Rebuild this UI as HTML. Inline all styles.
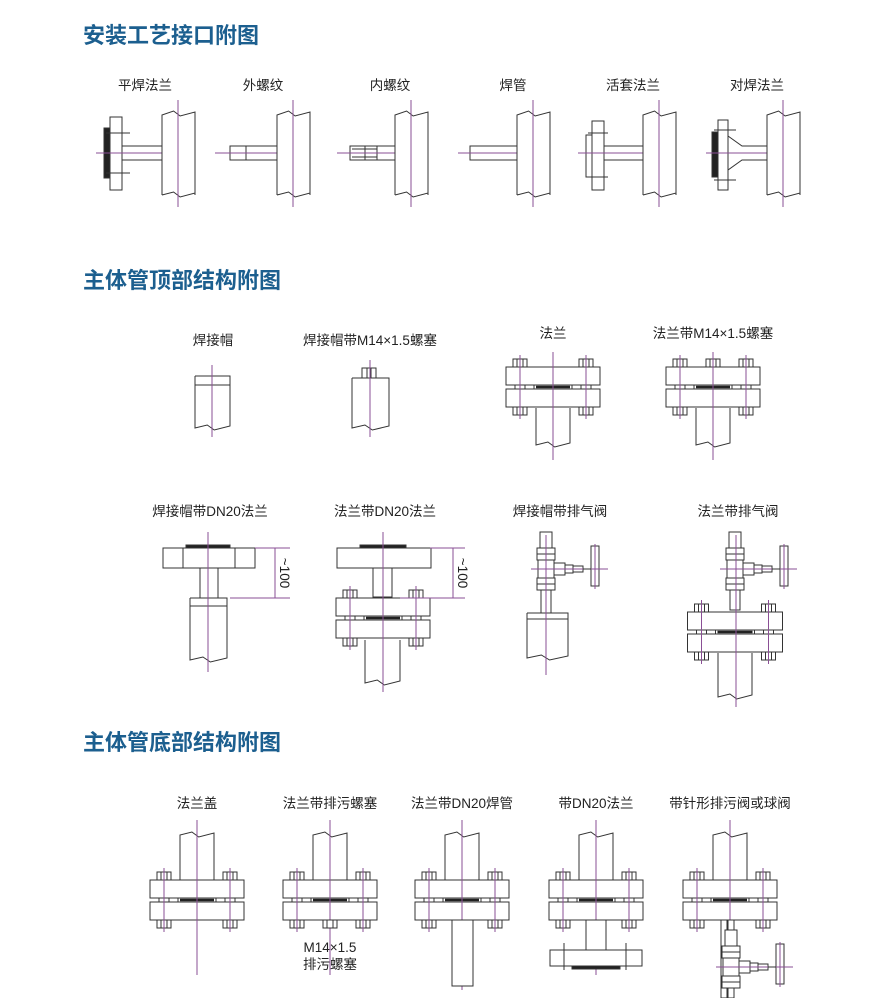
<!DOCTYPE html>
<html><head><meta charset="utf-8"><style>
body{margin:0;background:#fff;width:896px;height:998px;overflow:hidden}
svg{position:absolute;left:0;top:0}
.h{font-family:"Liberation Sans","Noto Sans CJK SC",sans-serif;font-weight:bold;font-size:22px;fill:#1c5f8f}
.t{font-family:"Liberation Sans","Noto Sans CJK SC",sans-serif;font-size:13.5px;fill:#222;text-anchor:middle}
</style></head><body>
<svg id="s" width="896" height="998" xmlns="http://www.w3.org/2000/svg">
<text class="h" x="83" y="43">安装工艺接口附图</text>
<text class="h" x="83" y="288">主体管顶部结构附图</text>
<text class="h" x="83" y="750">主体管底部结构附图</text>
<text class="t" x="145" y="90">平焊法兰</text>
<text class="t" x="263" y="90">外螺纹</text>
<text class="t" x="390" y="90">内螺纹</text>
<text class="t" x="513" y="90">焊管</text>
<text class="t" x="633" y="90">活套法兰</text>
<text class="t" x="757" y="90">对焊法兰</text>
<text class="t" x="213" y="345">焊接帽</text>
<text class="t" x="370" y="345">焊接帽带M14×1.5螺塞</text>
<text class="t" x="553" y="338">法兰</text>
<text class="t" x="713" y="338">法兰带M14×1.5螺塞</text>
<text class="t" x="210" y="516">焊接帽带DN20法兰</text>
<text class="t" x="385" y="516">法兰带DN20法兰</text>
<text class="t" x="560" y="516">焊接帽带排气阀</text>
<text class="t" x="738" y="516">法兰带排气阀</text>
<text class="t" x="197" y="808">法兰盖</text>
<text class="t" x="330" y="808">法兰带排污螺塞</text>
<text class="t" x="462" y="808">法兰带DN20焊管</text>
<text class="t" x="596" y="808">带DN20法兰</text>
<text class="t" x="730" y="808">带针形排污阀或球阀</text>
<text class="t" x="330" y="952">M14×1.5</text>
<text class="t" x="330" y="969">排污螺塞</text>
<text class="t" x="0" y="0" font-size="9" transform="translate(280,573) rotate(90)">~100</text>
<text class="t" x="0" y="0" font-size="9" transform="translate(458,573) rotate(90)">~100</text>
<g id="g" fill="none" stroke="#333" stroke-width="1"></g>
</svg>
<script>
var o='';
var P='#8a4f95';
function L(a,b,c,d,col,w){o+='<line x1="'+a+'" y1="'+b+'" x2="'+c+'" y2="'+d+'"'+(col?' stroke="'+col+'"':'')+(w?' stroke-width="'+w+'"':'')+'/>';}
function R(x,y,w,h,f){o+='<rect x="'+x+'" y="'+y+'" width="'+w+'" height="'+h+'" fill="'+(f||'#fff')+'"/>';}
function CV(x,a,b){L(x,a,x,b,P);}
function CH(y,a,b){L(a,y,b,y,P);}
function wave(x1,x2,y){var w=x2-x1;return x1+','+y+' '+(x1+w*.35)+','+(y-3)+' '+(x1+w*.55)+','+(y+2)+' '+x2+','+(y-2);}
function pipe(x1,x2,yt,yb,capTop){o+='<polyline fill="#fff" points="'+x1+','+yt+' '+wave(x1,x2,yb).split(' ').join(' ')+' '+x2+','+yt+(capTop?' '+x1+','+yt:'')+'"/>';
 o+='<polyline points="'+x1+','+yt+' '+x1+','+yb+'"/>';}
function pipeUp(x1,x2,yt,yb){
 o+='<polyline fill="#fff" points="'+x1+','+yb+' '+x1+','+yt+' '+wave(x1,x2,yt).split(' ').slice(1).join(' ')+' '+x2+','+yb+'"/>';}
function wall(x){var w=33;o+='<polyline fill="#fff" points="'+x+',195 '+x+',115 '+wave(x,x+w,114).split(' ').slice(1).join(' ')+' '+(x+w)+',195 '+wave(x,x+w,195).split(' ').reverse().join(' ')+'"/>';CV(x+16,100,207);}
function nut(cx,y,h){R(cx-7,y,14,h);L(cx-3,y,cx-3,y+h);L(cx+3,y,cx+3,y+h);}
function flanges(cx,y,w){var x=cx-w/2;R(x,y,w,18);R(x,y+22,w,18);R(cx-w/2+28,y+18,w-56,4,'#fff');L(cx-w/2+30,y+20,cx+w/2-30,y+20,'#222',2.5);
 [cx-w/2+14,cx+w/2-14].forEach(function(b){nut(b,y-8,8);nut(b,y+40,8);R(b-5,y+18,10,4);CV(b,y-12,y+52);});}
function valve(cx,y){R(cx-6,y,12,16);R(cx-9,y+16,18,12);L(cx-9,y+22,cx+9,y+22);R(cx-8,y+28,16,18);R(cx-9,y+46,18,12);L(cx-9,y+52,cx+9,y+52);
 R(cx+8,y+31,11,12);R(cx+19,y+33,8,8);R(cx+27,y+34,10,6);R(cx+45,y+14,8,40);CH(y+37,cx-15,cx+62);L(cx+37,y+37,cx+45,y+37);CV(cx+49,y+12,y+57);}
var xs=[162,277,395,517,643,767];
xs.forEach(function(x,i){var py=146,ph=14,cy=153;
 if(i==0){R(122,py,40,ph);R(110,117,12,73);R(104,128,6,50,'#222');L(106,133,130,133);L(106,173,130,173);CH(cy,96,178);}
 if(i==1){R(235,py,42,ph);R(230,py,16,ph);CH(cy,215,293);}
 if(i==2){R(355,py,40,ph);R(350,py,15,ph);R(365,py,12,ph);L(352,py+3,377,py+3);L(352,py+11,377,py+11);CH(cy,337,411);}
 if(i==3){R(470,py,47,ph);CH(cy,458,533);}
 if(i==4){R(604,py,39,ph);R(592,121,12,69);R(586,135,6,42);L(588,133,608,133);L(588,177,608,177);CH(cy,578,659);}
 if(i==5){o+='<polygon fill="#fff" points="728,136 742,146 767,146 767,160 742,160 728,170"/>';R(718,120,10,70);R(712,132,6,45,'#222');L(714,130,736,130);L(714,180,736,180);CH(cy,706,783);}
 wall(x);});
pipe(195,230,376,428,true);L(195,385,230,385);CV(212,365,437);
pipe(352,389,378,428,true);R(362,368,14,10);L(367,368,367,378);L(371,368,371,378);CV(370,360,437);
[553,713].forEach(function(c,i){pipe(c-17,c+17,408,445);flanges(c,367,94);if(i)nut(c,359,8);CV(c,352,460);});
pipe(190,227,598,660,true);L(190,606,227,606);R(200,568,18,30);R(163,548,92,20);R(186,545,44,3,'#222');L(183,548,183,568);L(235,548,235,568);CV(208,532,672);
L(255,548,290,548,P);L(230,598,290,598,P);L(275,548,275,598,P);
pipe(365,400,640,683);R(373,568,19,29);flanges(383,598,94);R(337,548,94,20);R(360,545,46,3,'#222');CV(383,532,692);
L(430,548,465,548,P);L(400,598,465,598,P);L(453,548,453,598,P);
pipe(527,568,613,658,true);L(527,619,568,619);R(541,580,10,33);valve(546,532);CV(546,535,675);
pipe(718,752,653,697);R(730,590,10,20);flanges(735,612,95);valve(735,532);CV(736,535,707);
[[197,150],[330,283],[462,415],[596,548],[730,682]].forEach(function(a,i){var c=a[0];
 pipeUp(c-17,c+17,835,880);flanges(c,880,94);CV(c,820,i==2?990:975);
 if(i==1){nut(c,920,8);}
 if(i==2){R(c-10,920,21,66);}
 if(i==3){R(c-10,920,20,30);R(c-46,950,92,16);R(c-24,966,48,3,'#222');L(c-32,943,c-32,970);L(c+30,943,c+30,970);}
 if(i==4){R(c-9,920,6,78);R(c-2,920,6,78);valve(c+1,930);}
});
document.getElementById('g').innerHTML=o;
</script>
</body></html>
